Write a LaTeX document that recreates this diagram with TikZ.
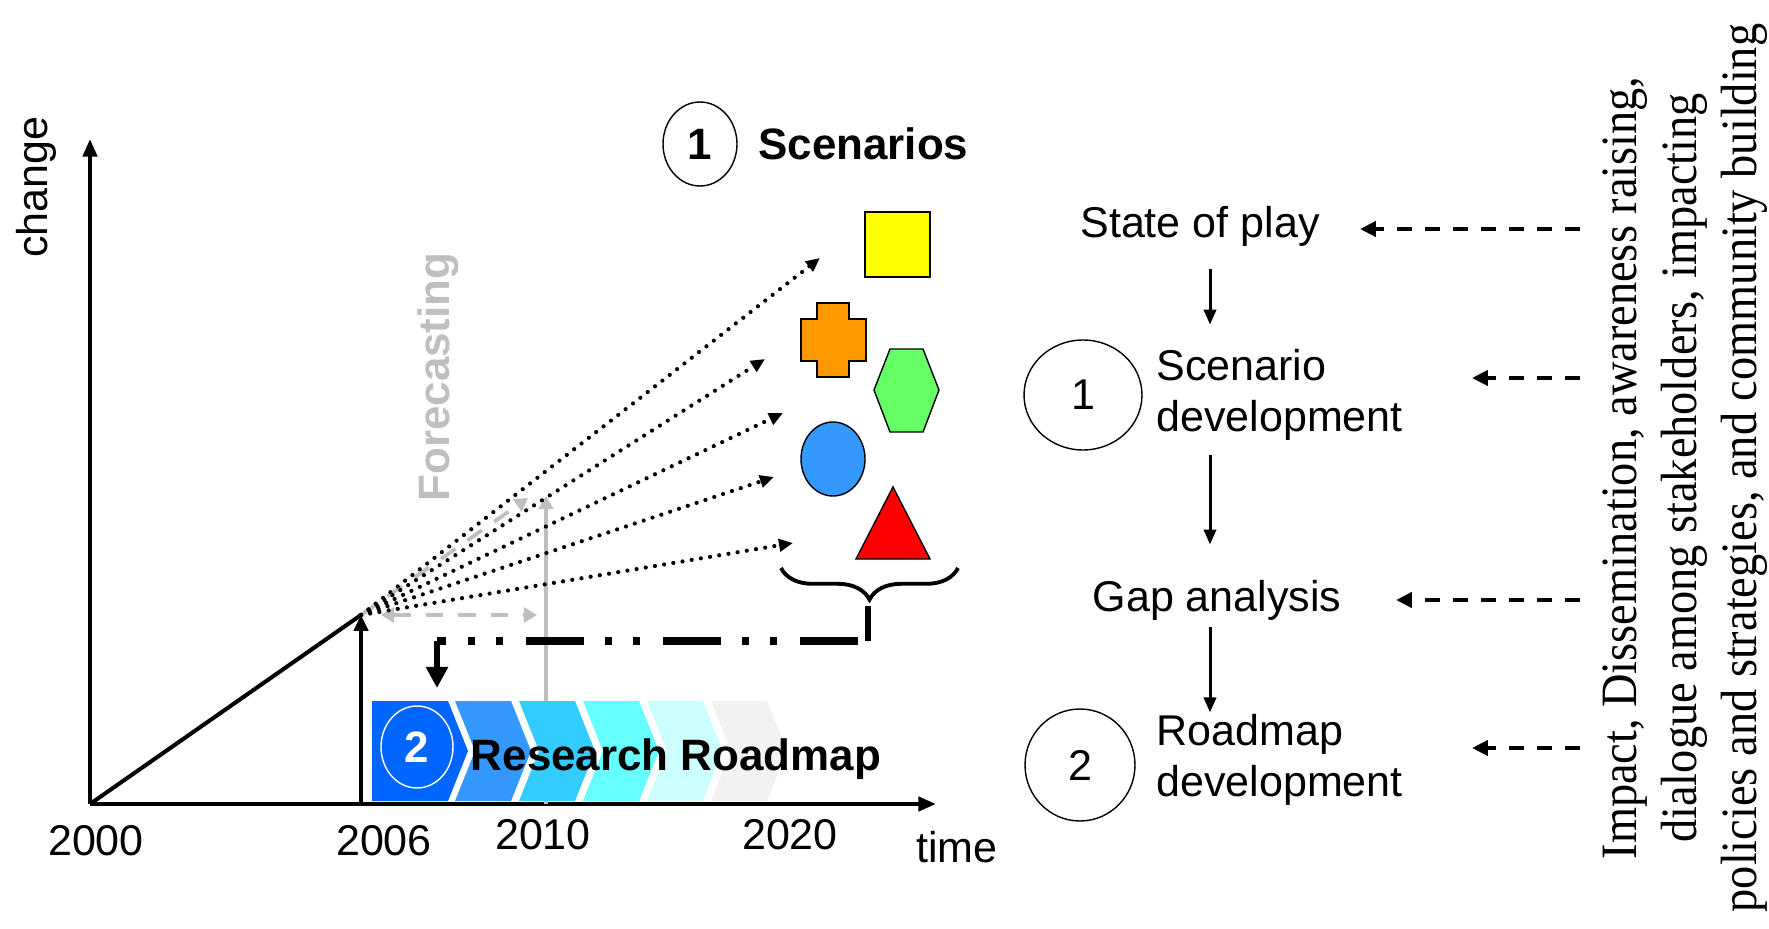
\documentclass[tikz,border=0pt]{standalone}
\usepackage{fontspec}
\setmainfont{Liberation Sans}
\newfontfamily\condserif[FakeStretch=0.91]{Liberation Serif}
\usetikzlibrary{arrows.meta,decorations.pathreplacing,shapes.geometric}

\definecolor{fcgray}{HTML}{BFBFBF}
\definecolor{chevA}{HTML}{0066FF}
\definecolor{chevB}{HTML}{3399FF}
\definecolor{chevC}{HTML}{33CCFF}
\definecolor{chevD}{HTML}{66FFFF}
\definecolor{chevE}{HTML}{CCFFFF}
\definecolor{chevF}{HTML}{F2F2F2}
\definecolor{shpyellow}{HTML}{FFFF00}
\definecolor{shporange}{HTML}{FF9900}
\definecolor{shpgreen}{HTML}{66FF66}
\definecolor{shpblue}{HTML}{3399FF}
\definecolor{shpred}{HTML}{FF0000}

\tikzset{
  lbl/.style={font=\fontsize{24.5}{29}\selectfont, inner sep=0pt},
  blbl/.style={font=\fontsize{25}{30}\selectfont\bfseries, inner sep=0pt},
  axisline/.style={line width=2.3pt, -{Triangle[length=10pt,width=8pt]}},
  dotarrow/.style={line width=2.4pt, line cap=round, dash pattern=on 0pt off 5.3pt, -{Triangle[length=8pt,width=7pt]}},
  grayarrow/.style={fcgray, line width=2.2pt, -{Triangle[length=7.5pt,width=8.5pt]}},
  flowarrow/.style={line width=1.7pt, -{Triangle[length=8.5pt,width=7pt]}},
  feedarrow/.style={line width=2.3pt, dash pattern=on 8.5pt off 7.4pt, -{Triangle[length=9pt,width=8.5pt]}},
  numcircle/.style={draw, ellipse, line width=0.8pt, inner sep=0pt},
  shp/.style={draw=black, line width=0.8pt}
}

\begin{document}
\begin{tikzpicture}[x=0.02cm, y=-0.02cm]
  \useasboundingbox (0,0) rectangle (1769,929);

  % axes
  \coordinate (o) at (90,804);
  \coordinate (ytip) at (90,139);
  \coordinate (xtip) at (936,804);
  \coordinate (p06) at (361,615);
  \coordinate (b06) at (361,804);
  \coordinate (b10) at (546,804);
  \coordinate (f10) at (546,496);
  \draw[axisline] (o) -- (ytip);
  \draw[axisline] (o) -- (xtip);
  \draw[line width=2.3pt] (o) -- (p06);
  \draw[line width=2.2pt, -{Triangle[length=9pt,width=8pt]}] (b06) -- (p06);

  \node[lbl, rotate=90] (change) at (36,187) {change};
  \node[lbl] (y2000) at (96,841) {2000};
  \node[lbl] (y2006) at (384,841) {2006};
  \node[lbl] (y2010) at (543,835) {2010};
  \node[lbl] (y2020) at (790,835) {2020};
  \node[lbl] (time) at (957,847) {time};

  % forecasting
  \coordinate (fcl) at (381,615);
  \coordinate (fcr) at (537,615);
  \coordinate (fct) at (528,498);
  \draw[grayarrow] (b10) -- (f10);
  \draw[grayarrow, dash pattern=on 10pt off 8.5pt, {Triangle[length=7.5pt,width=8.5pt]}-{Triangle[length=7.5pt,width=8.5pt]}] (fcl) -- (fcr);
  \draw[grayarrow, dash pattern=on 10pt off 8.5pt] (p06) -- (fct);
  \node[blbl, text=fcgray, rotate=90] (fcast) at (438,377) {Forecasting};

  % roadmap chevrons
  \fill[chevA] (372,701) -- (448,701) -- (468,751) -- (448,801) -- (372,801) -- cycle;
  \foreach \l/\col in {455/chevB, 519/chevC, 583/chevD, 647/chevE, 711/chevF} {
    \fill[\col] (\l,701) -- (\l+56,701) -- (\l+76,751) -- (\l+56,801) -- (\l,801) -- (\l+20,751) -- cycle;
  }
  \node[numcircle, draw=white, text=white, minimum width=1.44cm, minimum height=1.64cm,
        font=\fontsize{25}{30}\selectfont\bfseries] (rm2) at (417,747) {2};
  \node[blbl] (rmtxt) at (676,759) {Research Roadmap};

  % scenarios
  \node[numcircle, minimum width=1.48cm, minimum height=1.68cm,
        font=\fontsize{25}{30}\selectfont\bfseries] (sc1) at (700,144) {1};
  \node[blbl, anchor=west] (sctxt) at (758,144) {Scenarios};

  \fill[shpyellow, shp] (865,212) rectangle (930,277);
  \fill[shporange, shp] (817,303) -- (849,303) -- (849,319) -- (866,319) -- (866,361) -- (849,361)
    -- (849,377) -- (817,377) -- (817,361) -- (801,361) -- (801,319) -- (817,319) -- cycle;
  \fill[shpgreen, shp] (874,390) -- (890,349) -- (923,349) -- (939,390) -- (923,432) -- (890,432) -- cycle;
  \fill[shpblue, shp] (833,459) ellipse [x radius=32, y radius=37];
  \fill[shpred, shp] (893,487) -- (930,559) -- (856,559) -- cycle;

  \foreach \n/\tx/\ty in {1/820/258, 2/765/359, 3/783/413, 4/774/477, 5/793/543} {
    \coordinate (t\n) at (\tx,\ty);
    \draw[dotarrow] (p06) -- (t\n);
  }

  % brace to roadmap
  \draw[line width=2.2pt, decorate, decoration={brace, amplitude=18pt, mirror}] (781,568) -- (958,568);
  \coordinate (bt) at (868,606);
  \coordinate (bc) at (868,641);
  \coordinate (rc) at (437,641);
  \coordinate (rt) at (437,688);
  \draw[line width=3pt] (bt) -- (bc);
  \draw[line width=4pt, dash pattern=on 4pt off 11.9pt on 4pt off 13pt on 32.9pt off 12.2pt, dash phase=60.4pt] (rc) -- (bc);
  \draw[line width=3.2pt, -{Triangle[length=12pt,width=12pt]}] (rc) -- (rt);

  % process
  \coordinate (spine) at (1210,0);
  \node[lbl] (play) at (1200,226) {State of play};
  \node[lbl, anchor=west, align=left] (scen) at (1156,395) {Scenario\\development};
  \node[numcircle, minimum width=2.36cm, minimum height=2.2cm, font=\fontsize{24.5}{29}\selectfont] (c1) at (1083,395) {1};
  \node[lbl] (gap) at (1217,600) {Gap analysis};
  \node[lbl, anchor=west, align=left] (road) at (1156,760) {Roadmap\\development};
  \node[numcircle, minimum width=2.2cm, minimum height=2.24cm, font=\fontsize{24.5}{29}\selectfont] (c2) at (1080,765) {2};

  \draw[flowarrow, shorten <=13pt, shorten >=14pt] (play.south -| spine) -- (scen.north -| spine);
  \draw[flowarrow, shorten <=8pt, shorten >=20pt] (scen.south -| spine) -- (gap.north -| spine);
  \draw[flowarrow, shorten <=4pt, shorten >=1pt] (gap.south -| spine) -- (road.north -| spine);

  % feedback
  \node[rotate=90, align=center, inner sep=0pt, font=\condserif\fontsize{29}{34}\selectfont] (impact) at (1685,468)
    {Impact, Dissemination, awareness raising,\\dialogue among stakeholders, impacting\\policies and strategies, and community building};
  \foreach \n/\y/\x in {1/229/1360, 2/378/1472, 3/600/1396, 4/748/1472} {
    \coordinate (d\n) at (1580,\y);
    \coordinate (e\n) at (\x,\y);
    \draw[feedarrow] (d\n) -- (e\n);
  }
\end{tikzpicture}
\end{document}
